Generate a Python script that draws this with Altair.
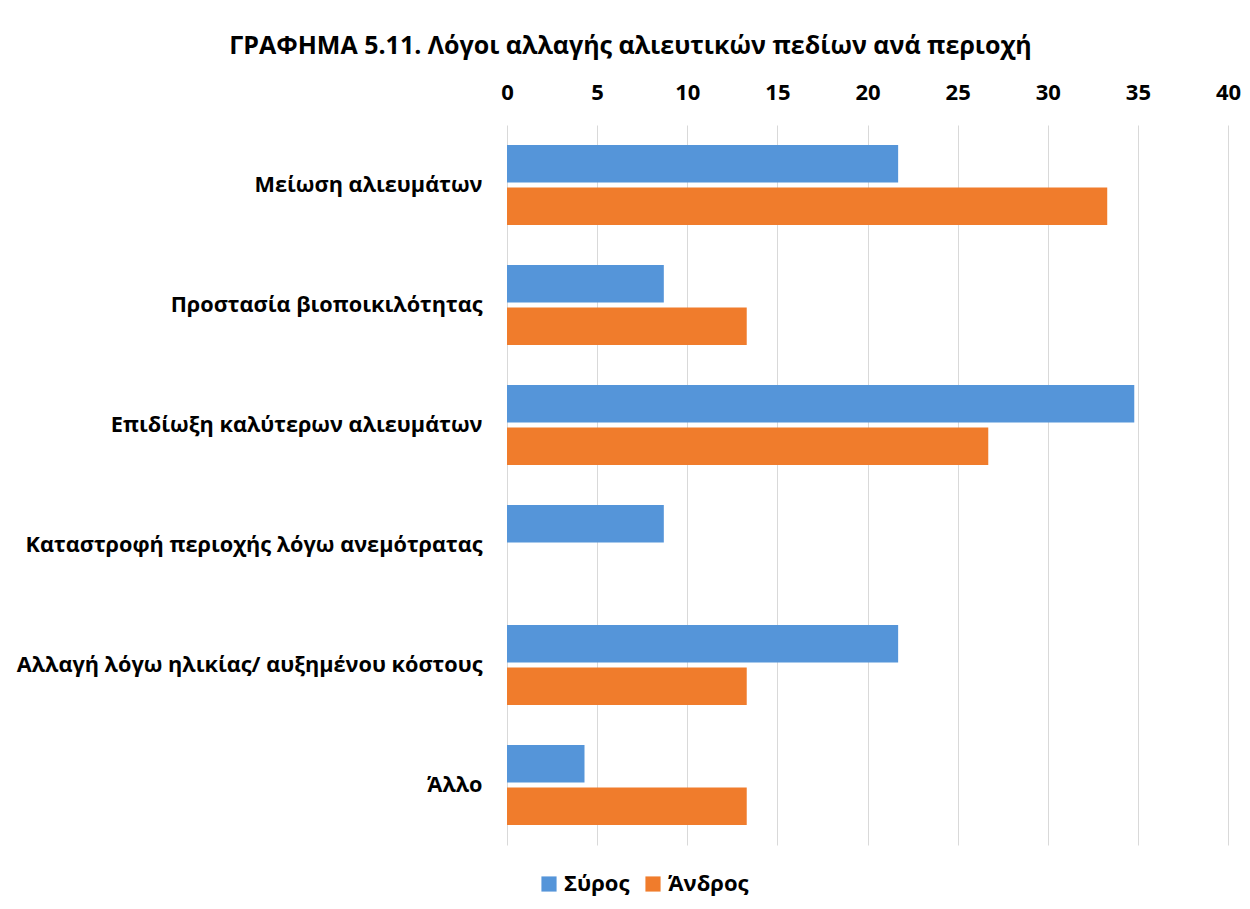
import altair as alt
import pandas as pd

categories = [
    "Μείωση αλιευμάτων",
    "Προστασία βιοποικιλότητας",
    "Επιδίωξη καλύτερων αλιευμάτων",
    "Καταστροφή περιοχής λόγω ανεμότρατας",
    "Αλλαγή λόγω ηλικίας/ αυξημένου κόστους",
    "Άλλο",
]
series = ["Σύρος", "Άνδρος"]
syros = [21.7, 8.7, 34.8, 8.7, 21.7, 4.3]
andros = [33.3, 13.3, 26.7, 0.0, 13.3, 13.3]
x_ticks = [0, 5, 10, 15, 20, 25, 30, 35, 40]
colors = ["#5595D9", "#F07C2C"]

rows = []
for c, s, a in zip(categories, syros, andros):
    rows.append({"cat": c, "region": series[0], "value": s})
    rows.append({"cat": c, "region": series[1], "value": a})
df = pd.DataFrame(rows)

FONT = "Open Sans"

chart = alt.Chart(df).mark_bar().encode(
    y=alt.Y("cat:N", sort=categories, title=None,
            scale=alt.Scale(paddingInner=0.333, paddingOuter=0.1665),
            axis=alt.Axis(labelFont=FONT, labelFontSize=21.7, labelFontWeight="bold",
                          labelColor="#000000", labelPadding=25, ticks=False,
                          domain=False, labelLimit=600)),
    yOffset=alt.YOffset("region:N", sort=series,
                        scale=alt.Scale(paddingInner=0.12, paddingOuter=0)),
    x=alt.X("value:Q", title=None,
            scale=alt.Scale(domain=[0, 40], nice=False),
            axis=alt.Axis(orient="top", values=x_ticks, labelFont=FONT,
                          labelFontSize=22, labelFontWeight="bold", labelColor="#000000",
                          labelPadding=21, labelFlush=False, ticks=False, domain=False,
                          grid=True, gridColor="#D9D9D9", gridWidth=1)),
    color=alt.Color("region:N", sort=series, title=None,
                    scale=alt.Scale(domain=series, range=colors),
                    legend=alt.Legend(orient="none", direction="horizontal",
                                      legendX=31, legendY=748,
                                      symbolType="square", symbolSize=230,
                                      symbolStrokeWidth=0,
                                      labelFont=FONT, labelFontSize=22,
                                      labelFontWeight="bold", labelColor="#000000",
                                      columnPadding=12, labelOffset=4)),
).properties(
    width=721,
    height=720,
    title=alt.TitleParams(
        "ΓΡΑΦΗΜΑ 5.11. Λόγοι αλλαγής αλιευτικών πεδίων ανά περιοχή",
        font=FONT, fontSize=25, fontWeight="bold", color="#000000",
        anchor="middle", dx=-237, offset=22,
    ),
    autosize=alt.AutoSizeParams(type="none"),
    padding={"left": 499, "top": 117, "right": 14, "bottom": 64},
).configure_view(stroke=None)

chart.save("out.html", embed_options={"renderer": "svg", "actions": False})
